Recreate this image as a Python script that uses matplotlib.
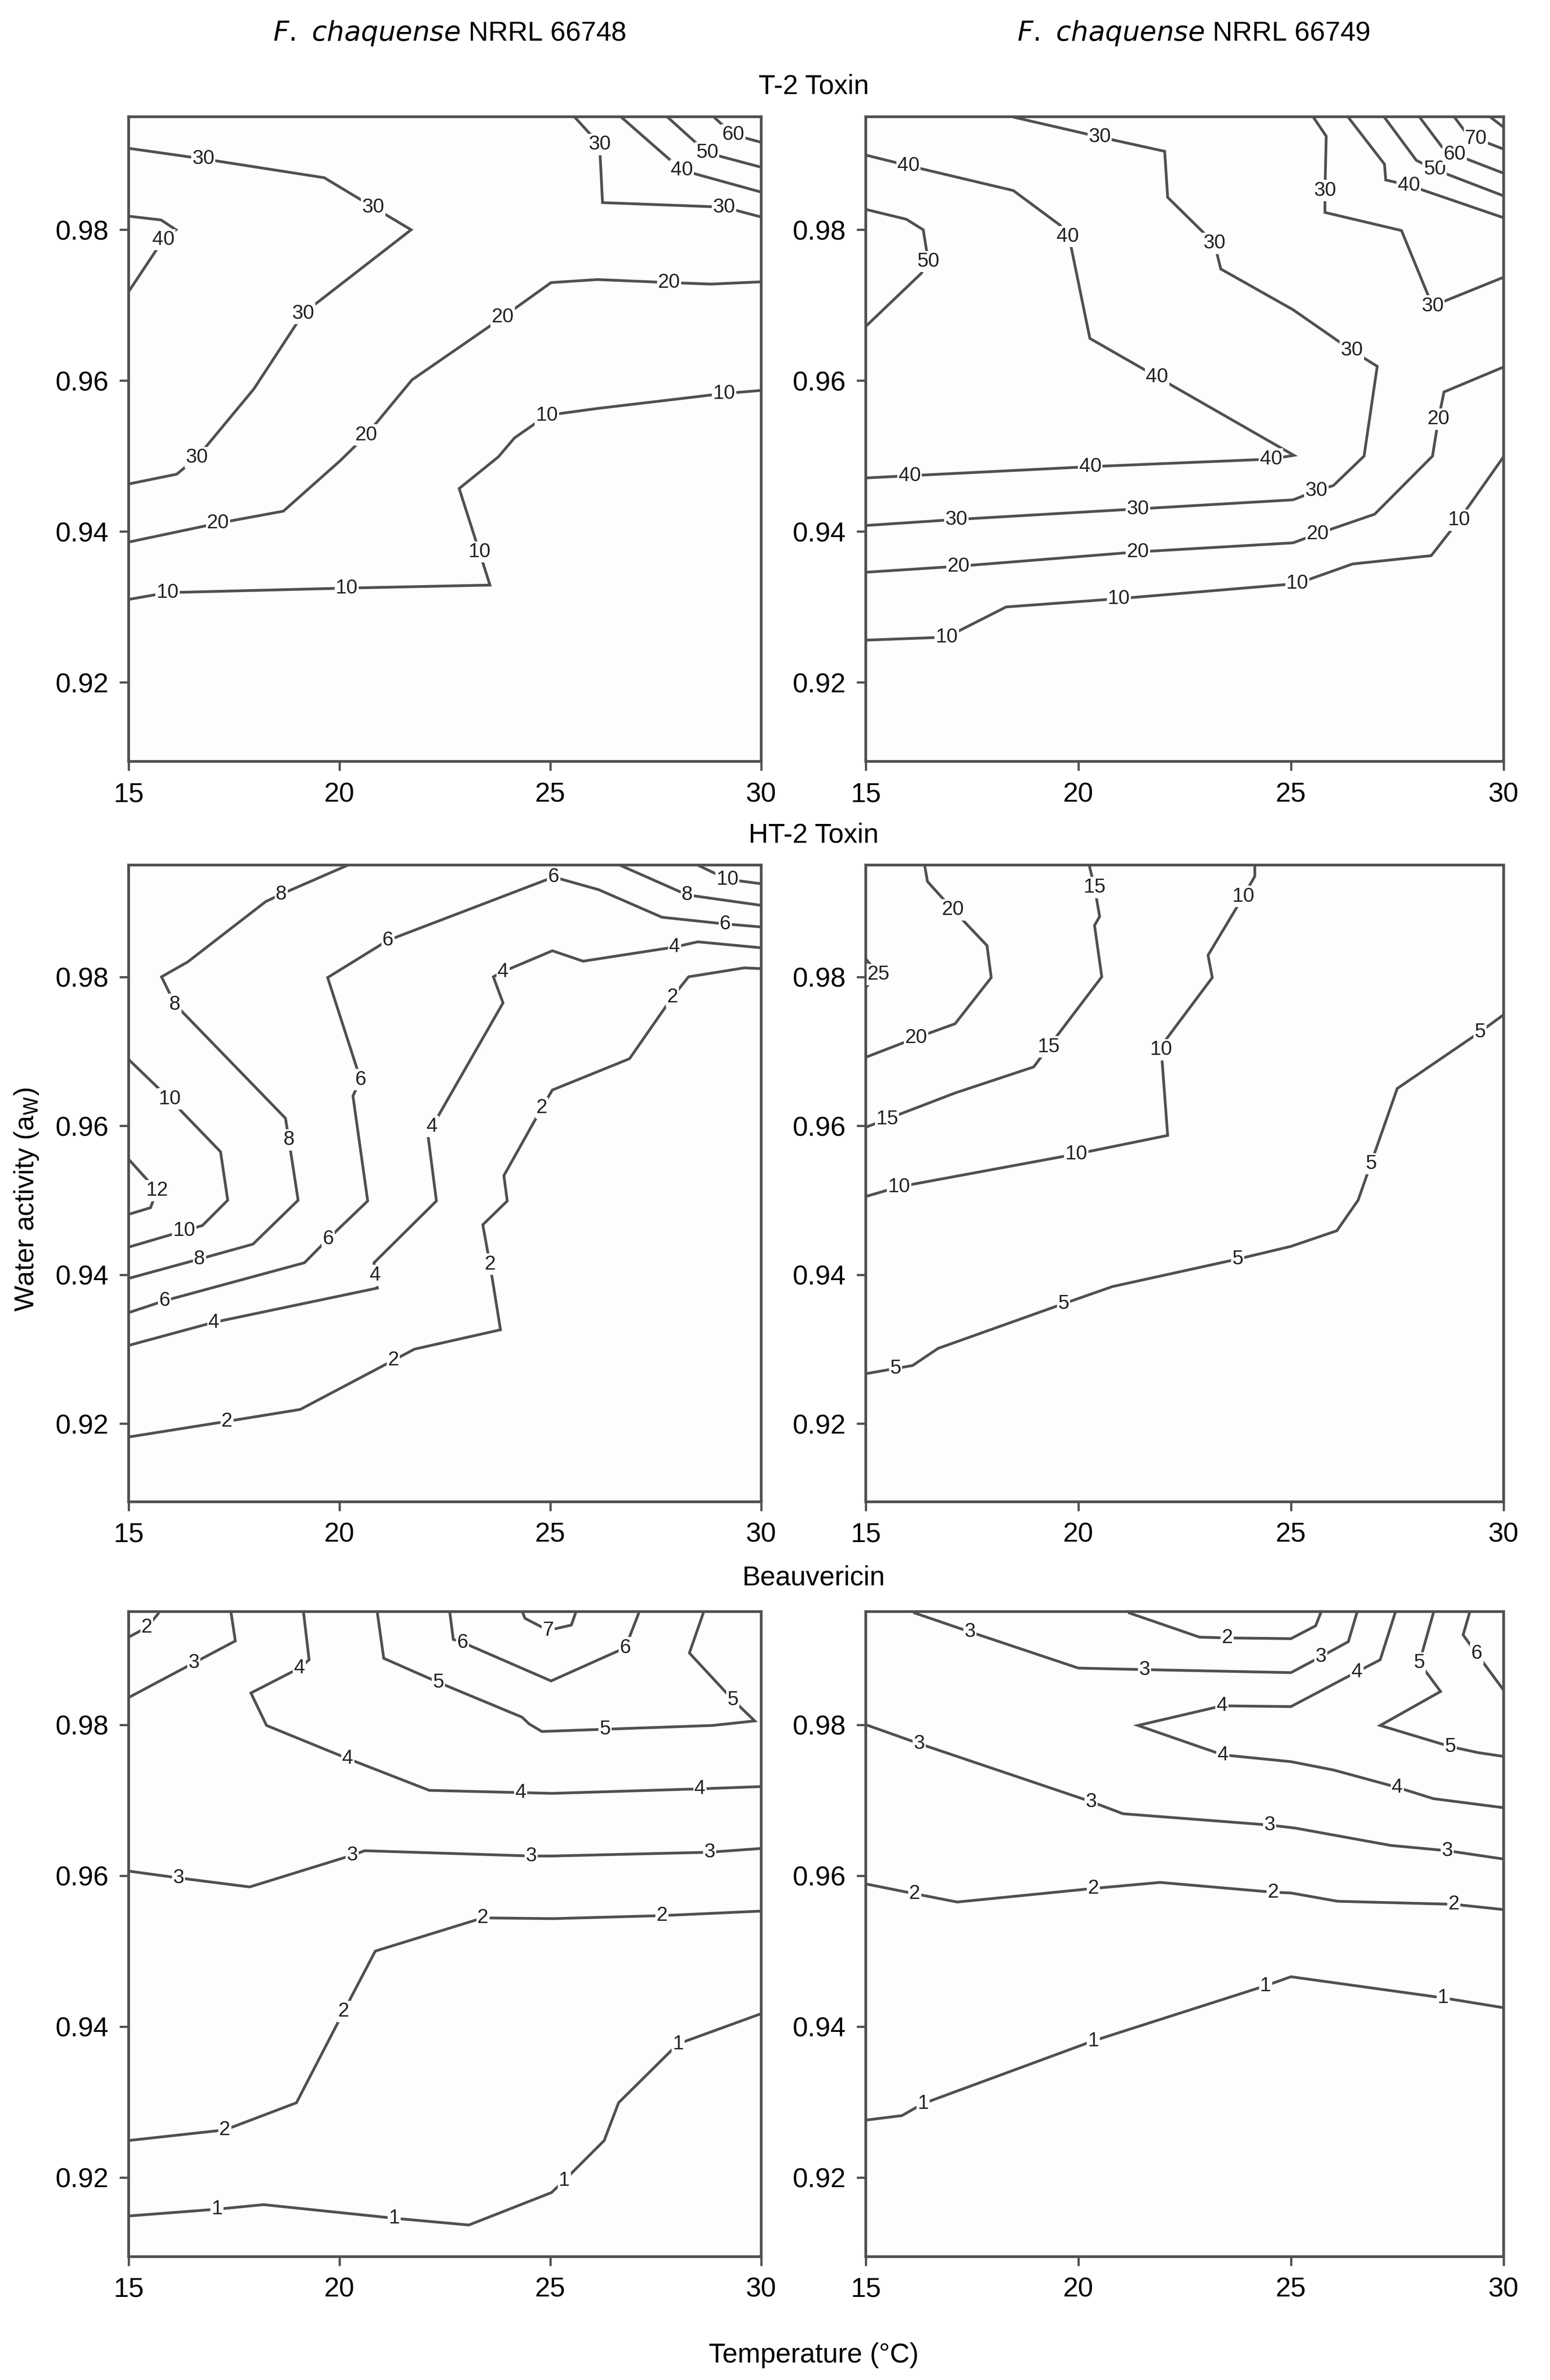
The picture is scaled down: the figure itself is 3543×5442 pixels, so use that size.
import matplotlib
matplotlib.use("Agg")
import matplotlib.pyplot as plt

plt.rcParams['font.family'] = ['Liberation Sans', 'DejaVu Sans']

temps_ticks = [15, 20, 25, 30]
aw_ticks = [0.92, 0.94, 0.96, 0.98]
strain_titles = ["NRRL 66748", "NRRL 66749"]
row_titles = ["T-2 Toxin", "HT-2 Toxin", "Beauvericin"]

# Each contour: (level, temperature values, aw values, label temperatures, label aw values)
t2_66748 = [
    (10, [15, 15.92, 20.17, 23.57, 23.32, 22.84, 23.77, 24.15, 24.92, 26.10, 29.12, 30],
         [0.931, 0.9319, 0.9325, 0.9329, 0.9373, 0.9457, 0.9499, 0.9524, 0.9554, 0.9563, 0.9583, 0.9587],
         [15.92, 20.17, 23.32, 24.92, 29.12], [0.9319, 0.9325, 0.9373, 0.9554, 0.9583]),
    (20, [15, 17.12, 18.67, 20.02, 20.64, 21.72, 23.87, 25.02, 26.12, 27.82, 28.82, 30],
         [0.9386, 0.9411, 0.9427, 0.9494, 0.9528, 0.9601, 0.9684, 0.973, 0.9734, 0.973, 0.9728, 0.9731],
         [17.12, 20.64, 23.87, 27.82], [0.9411, 0.9528, 0.9684, 0.973]),
    (30, [15, 16.14, 16.62, 17.97, 19.14, 21.70, 20.80, 19.64, 16.77, 15],
         [0.9463, 0.9476, 0.9498, 0.9589, 0.9689, 0.98, 0.983, 0.9869, 0.9894, 0.9908],
         [16.62, 19.14, 20.80, 16.77], [0.9498, 0.9689, 0.983, 0.9894]),
    (40, [15, 15.82, 16.12, 15.77, 15], [0.9718, 0.9787, 0.98, 0.9813, 0.9818], [15.82], [0.9787]),
    (30, [25.57, 26.17, 26.24, 29.12, 30], [0.995, 0.9913, 0.9836, 0.983, 0.9817],
         [26.17, 29.12], [0.9913, 0.983]),
    (40, [26.67, 28.12, 30], [0.995, 0.9879, 0.985], [28.12], [0.9879]),
    (50, [27.77, 28.72, 30], [0.995, 0.9902, 0.9883], [28.72], [0.9902]),
    (60, [28.87, 29.34, 30], [0.995, 0.9926, 0.9916], [29.34], [0.9926]),
]

t2_66749 = [
    (10, [15, 16.9, 18.3, 20.95, 25.15, 26.45, 28.3, 28.95, 30],
         [0.9256, 0.926, 0.930, 0.9311, 0.9331, 0.9357, 0.9368, 0.9415, 0.9499],
         [16.9, 20.95, 25.15, 28.95], [0.926, 0.9311, 0.9331, 0.9415]),
    (20, [15, 17.18, 21.4, 25.05, 25.63, 26.97, 28.33, 28.47, 28.6, 30],
         [0.9346, 0.9354, 0.9373, 0.9385, 0.9397, 0.9423, 0.950, 0.9549, 0.9585, 0.9618],
         [17.18, 21.4, 25.63, 28.47], [0.9354, 0.9373, 0.9397, 0.9549]),
    (30, [15, 17.13, 21.4, 25.05, 25.6, 26.0, 26.72, 27.03, 26.43, 25.05, 23.35, 23.2, 22.1, 22.03, 20.5, 18.5],
         [0.9408, 0.9416, 0.943, 0.9442, 0.9454, 0.9461, 0.950, 0.9619, 0.964, 0.9694, 0.9748, 0.9782, 0.9843, 0.9904, 0.9923, 0.9949],
         [17.13, 21.4, 25.6, 26.43, 23.2, 20.5], [0.9416, 0.943, 0.9454, 0.964, 0.9782, 0.9923]),
    (40, [15, 16.03, 20.28, 24.53, 25.07, 21.85, 20.27, 19.83, 19.75, 19.57, 18.47, 16.0, 15],
         [0.9471, 0.9474, 0.9486, 0.9496, 0.9501, 0.9605, 0.9656, 0.9777, 0.9791, 0.9806, 0.9852, 0.9885, 0.9899],
         [16.03, 20.28, 24.53, 21.85, 19.75, 16.0], [0.9474, 0.9486, 0.9496, 0.9605, 0.9791, 0.9885]),
    (50, [15, 16.3, 16.47, 16.35, 15.95, 15], [0.9672, 0.9742, 0.9758, 0.98, 0.9814, 0.9827], [16.47], [0.9758]),
    (30, [25.53, 25.83, 25.8, 25.8, 27.6, 28.33, 30], [0.9949, 0.9924, 0.9852, 0.9823, 0.9799, 0.9699, 0.9737],
         [25.8, 28.33], [0.9852, 0.9699]),
    (40, [26.35, 27.2, 27.23, 27.77, 30], [0.9949, 0.9887, 0.9866, 0.9859, 0.9816], [27.77], [0.9859]),
    (50, [27.2, 27.95, 28.38, 30], [0.9949, 0.9892, 0.988, 0.9845], [28.38], [0.988]),
    (60, [28.03, 28.55, 28.85, 30], [0.9949, 0.991, 0.990, 0.9875], [28.85], [0.990]),
    (70, [28.85, 29.1, 29.35, 30], [0.9949, 0.993, 0.9921, 0.9907], [29.35], [0.9921]),
    (80, [29.7, 30], [0.9949, 0.9936], [], []),
]

ht2_66748 = [
    (2, [15, 17.33, 19.07, 21.28, 21.78, 23.82, 23.57, 23.4, 23.98, 23.9, 24.8, 25.05, 26.88, 27.9, 28.28, 29.6, 30],
        [0.9182, 0.9203, 0.9219, 0.9285, 0.930, 0.9326, 0.9414, 0.9467, 0.9499, 0.9533, 0.9624, 0.9648, 0.969, 0.9773, 0.98, 0.9812, 0.9811],
        [17.33, 21.28, 23.57, 24.8, 27.9], [0.9203, 0.9285, 0.9414, 0.9624, 0.9773]),
    (4, [15, 17.02, 20.9, 20.85, 20.82, 22.3, 22.1, 22.2, 23.88, 23.65, 23.88, 25.05, 25.78, 27.95, 28.5, 30],
        [0.9305, 0.9336, 0.9382, 0.9399, 0.9416, 0.9499, 0.9587, 0.9599, 0.9765, 0.98, 0.9807, 0.9835, 0.9821, 0.984, 0.9847, 0.9839],
        [17.02, 20.85, 22.2, 23.88, 27.95], [0.9336, 0.9399, 0.9599, 0.9807, 0.984]),
    (6, [15, 15.85, 19.17, 19.73, 20.67, 20.32, 20.5, 19.72, 21.15, 25.08, 26.15, 27.65, 29.15, 30],
        [0.9349, 0.9365, 0.9416, 0.9448, 0.9499, 0.964, 0.9662, 0.9799, 0.9849, 0.9934, 0.9917, 0.988, 0.9871, 0.9867],
        [15.85, 19.73, 20.5, 21.15, 25.08, 29.15], [0.9365, 0.9448, 0.9662, 0.9849, 0.9934, 0.9871]),
    (8, [15, 16.68, 17.95, 19.02, 18.8, 18.72, 16.1, 15.78, 16.4, 18.25, 18.62, 20.2],
        [0.9395, 0.9421, 0.9441, 0.950, 0.9581, 0.961, 0.9763, 0.98, 0.982, 0.9901, 0.9911, 0.995],
        [16.68, 18.8, 16.1, 18.62], [0.9421, 0.9581, 0.9763, 0.9911]),
    (8, [26.65, 28.25, 30], [0.995, 0.991, 0.9896], [28.25], [0.991]),
    (10, [15, 16.32, 16.75, 17.35, 17.18, 15.97, 15],
         [0.9437, 0.9459, 0.9466, 0.950, 0.9565, 0.9636, 0.9689],
         [16.32, 15.97], [0.9459, 0.9636]),
    (10, [28.5, 29.2, 30], [0.995, 0.9931, 0.9925], [29.2], [0.9931]),
    (12, [15, 15.52, 15.67, 15], [0.9481, 0.949, 0.9513, 0.9555], [15.67], [0.9513]),
]

ht2_66749 = [
    (5, [15, 15.7, 16.1, 16.7, 19.65, 20.8, 23.75, 25.0, 26.08, 26.58, 26.88, 27.5, 29.45, 30],
        [0.9267, 0.9274, 0.9278, 0.9301, 0.9361, 0.9384, 0.9421, 0.9438, 0.9459, 0.950, 0.9549, 0.965, 0.9726, 0.9749],
        [15.7, 19.65, 23.75, 26.88, 29.45], [0.9274, 0.9361, 0.9421, 0.9549, 0.9726]),
    (10, [15, 15.78, 19.95, 22.1, 21.95, 22.05, 23.15, 23.05, 23.88, 24.15, 24.15],
         [0.9505, 0.9518, 0.9562, 0.9587, 0.9702, 0.9715, 0.9799, 0.9829, 0.9908, 0.9935, 0.9951],
         [15.78, 19.95, 21.95, 23.88], [0.9518, 0.9562, 0.9702, 0.9908]),
    (15, [15, 15.5, 17.1, 18.95, 19.3, 20.55, 20.38, 20.5, 20.38, 20.25],
         [0.9598, 0.9609, 0.9644, 0.9679, 0.9706, 0.98, 0.9869, 0.9881, 0.992, 0.9951],
         [15.5, 19.3, 20.38], [0.9609, 0.9706, 0.992]),
    (20, [15, 16.18, 17.1, 17.95, 17.85, 17.05, 16.45, 16.38],
         [0.9692, 0.9718, 0.9737, 0.9799, 0.9842, 0.989, 0.9928, 0.9951],
         [16.18, 17.05], [0.9718, 0.989]),
    (25, [15, 15.3, 15], [0.9824, 0.9803, 0.9786], [15.3], [0.9803]),
]

beau_66748 = [
    (1, [15, 17.1, 18.2, 21.3, 23.07, 25.03, 25.33, 26.28, 26.62, 28.03, 30],
        [0.9149, 0.9158, 0.9164, 0.9146, 0.9137, 0.918, 0.9196, 0.9249, 0.9299, 0.9377, 0.9417],
        [17.1, 21.3, 25.33, 28.03], [0.9158, 0.9146, 0.9196, 0.9377]),
    (2, [15, 17.28, 18.98, 20.1, 20.85, 23.4, 25.05, 27.65, 30],
        [0.9249, 0.9263, 0.9299, 0.942, 0.950, 0.9544, 0.9543, 0.9547, 0.9553],
        [17.28, 20.1, 23.4, 27.65], [0.9263, 0.942, 0.9544, 0.9547]),
    (3, [15, 16.18, 17.87, 20.3, 20.6, 24.55, 25.05, 28.78, 30],
        [0.9606, 0.9597, 0.9585, 0.9627, 0.9633, 0.9626, 0.9626, 0.9631, 0.9636],
        [16.18, 20.3, 24.55, 28.78], [0.9597, 0.9627, 0.9626, 0.9631]),
    (4, [19.15, 19.28, 19.05, 17.9, 18.27, 20.2, 22.13, 24.3, 25.05, 28.55, 30],
        [0.9948, 0.9886, 0.9875, 0.9842, 0.9799, 0.9755, 0.9713, 0.971, 0.9709, 0.9715, 0.9718],
        [19.05, 20.2, 24.3, 28.55], [0.9875, 0.9755, 0.971, 0.9715]),
    (3, [15, 16.55, 17.53, 17.43], [0.9836, 0.9882, 0.9911, 0.9948], [16.55], [0.9882]),
    (2, [15, 15.43, 15.7], [0.9916, 0.9929, 0.9947], [15.43], [0.9929]),
    (5, [20.9, 21.05, 22.35, 24.33, 24.5, 24.8, 26.3, 28.85, 29.85, 29.33, 28.3, 28.63],
        [0.9948, 0.9888, 0.9856, 0.981, 0.9801, 0.9791, 0.9794, 0.9799, 0.9805, 0.9833, 0.9895, 0.9948],
        [22.35, 26.3, 29.33], [0.9856, 0.9794, 0.9833]),
    (6, [22.62, 22.7, 22.92, 25.02, 26.78, 27.1], [0.9948, 0.9913, 0.9909, 0.9858, 0.9902, 0.9948],
        [22.92, 26.78], [0.9909, 0.9902]),
    (7, [24.35, 24.4, 24.95, 25.5, 25.6], [0.9948, 0.9941, 0.9925, 0.9932, 0.9948], [24.95], [0.9925]),
]

beau_66749 = [
    (1, [15, 15.85, 16.35, 20.35, 24.4, 25.0, 28.58, 30],
        [0.9276, 0.9282, 0.9298, 0.9381, 0.9454, 0.9466, 0.9438, 0.9425],
        [16.35, 20.35, 24.4, 28.58], [0.9298, 0.9381, 0.9454, 0.9438]),
    (2, [15, 16.15, 17.15, 20.35, 21.92, 24.58, 25.0, 26.1, 28.83, 30],
        [0.9589, 0.9576, 0.9565, 0.9583, 0.9591, 0.9578, 0.9577, 0.9566, 0.9562, 0.9555],
        [16.15, 20.35, 24.58, 28.83], [0.9576, 0.9583, 0.9578, 0.9562]),
    (3, [15, 16.25, 20.3, 21.05, 24.5, 25.1, 27.35, 28.68, 30],
        [0.98, 0.9775, 0.9698, 0.9682, 0.9667, 0.9663, 0.964, 0.9633, 0.9622],
        [16.25, 20.3, 24.5, 28.68], [0.9775, 0.9698, 0.9667, 0.9633]),
    (4, [27.45, 27.1, 26.55, 25.0, 23.38, 21.4, 23.4, 25.0, 26.0, 27.5, 28.35, 30],
        [0.9948, 0.9886, 0.987, 0.9824, 0.9825, 0.9799, 0.976, 0.9751, 0.974, 0.9717, 0.9702, 0.969],
        [26.55, 23.38, 23.4, 27.5], [0.987, 0.9825, 0.976, 0.9717]),
    (3, [16.15, 17.45, 20.0, 21.55, 25.0, 25.7, 26.35, 26.55],
        [0.9948, 0.9923, 0.9875, 0.9873, 0.9869, 0.989, 0.991, 0.9948],
        [17.45, 21.55, 25.7], [0.9923, 0.9873, 0.989]),
    (2, [21.2, 22.85, 23.5, 25.0, 25.58, 25.7], [0.9948, 0.9916, 0.9915, 0.9914, 0.9931, 0.9948],
        [23.5], [0.9915]),
    (5, [28.35, 28.02, 28.52, 27.1, 28.75, 29.4, 30], [0.9948, 0.9882, 0.9844, 0.9799, 0.9771, 0.9763, 0.9758],
        [28.02, 28.75], [0.9882, 0.9771]),
    (6, [29.2, 29.05, 29.37, 30], [0.9948, 0.9919, 0.9894, 0.9846], [29.37], [0.9894]),
]

panels = [[t2_66748, t2_66749], [ht2_66748, ht2_66749], [beau_66748, beau_66749]]

fig = plt.figure(figsize=(3543 / 300, 5442 / 300), dpi=300)
col_x = [(0.083, 0.408), (0.5586, 0.4114)]
row_y = [(0.680, 0.271), (0.369, 0.2675), (0.0518, 0.2711)]
line_col = '#505050'

for r in range(3):
    for c in range(2):
        x0, w = col_x[c]
        y0, h = row_y[r]
        ax = fig.add_axes([x0, y0, w, h])
        ax.set_facecolor('#fdfdfd')
        for level, tx, ay, lt, la in panels[r][c]:
            ax.plot(tx, ay, color=line_col, lw=1.5, solid_joinstyle='miter', clip_on=True)
            for a, b in zip(lt, la):
                ax.text(a, b, str(level), ha='center', va='center', fontsize=11, color='#222222',
                        bbox=dict(boxstyle='square,pad=0.05', fc='#fdfdfd', ec='none'), clip_on=True)
        ax.set_xlim(15, 30)
        ax.set_ylim(0.9095, 0.995)
        ax.set_xticks(temps_ticks)
        ax.set_xticklabels([str(t) for t in temps_ticks])
        ax.set_yticks(aw_ticks)
        ax.set_yticklabels([f"{v:.2f}" for v in aw_ticks])
        ax.tick_params(direction='out', length=5, width=1.2, labelsize=15, color=line_col, pad=6)
        for s in ax.spines.values():
            s.set_color(line_col)
            s.set_linewidth(1.5)

col_centers = [0.29, 0.77]
for cx, st in zip(col_centers, strain_titles):
    fig.text(cx, 0.986, r"$\it{F.\ chaquense}$ " + st, ha='center', va='center', fontsize=15)
row_title_y = [0.9636, 0.649, 0.337]
for ty, tt in zip(row_title_y, row_titles):
    fig.text(0.525, ty, tt, ha='center', va='center', fontsize=15)
fig.text(0.525, 0.0103, "Temperature (°C)", ha='center', va='center', fontsize=15)
fig.text(0.017, 0.496, r"Water activity (a$_\mathrm{W}$)", ha='center', va='center', rotation=90, fontsize=15)

fig.savefig("out.png", dpi=300, facecolor='white')
